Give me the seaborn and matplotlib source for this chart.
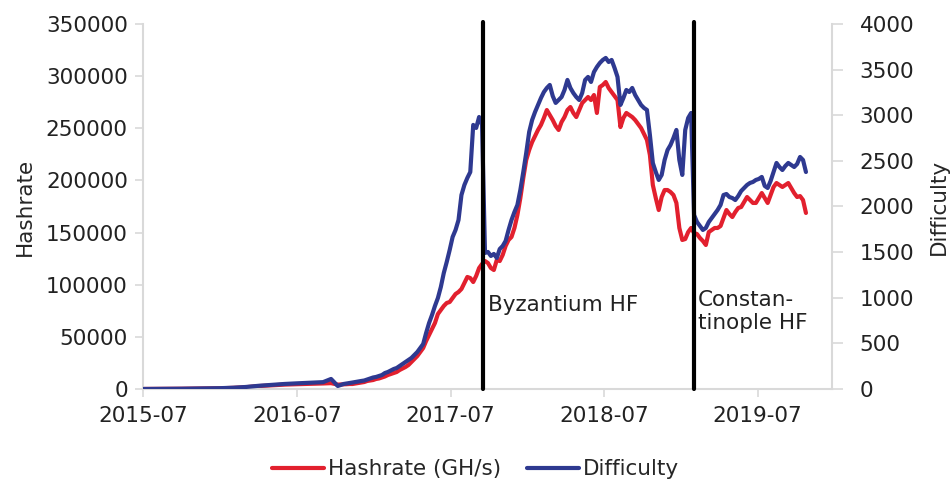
import pandas as pd
import numpy as np
import seaborn as sns
import matplotlib.pyplot as plt
import matplotlib.dates as mdates

# early period, roughly monthly readings
early_dates = ['2015-07-30', '2015-08-30', '2015-09-30', '2015-10-30', '2015-11-30',
               '2015-12-30', '2016-01-30', '2016-03-01', '2016-03-30', '2016-04-30',
               '2016-05-30', '2016-06-30', '2016-07-30', '2016-08-30', '2016-09-30',
               '2016-10-19']
early_hashrate = [30, 80, 150, 250, 400, 500, 700, 1100, 1700, 2800,
                  3500, 4200, 4600, 4900, 5300, 5600]
early_difficulty = [0.1, 0.8, 1.5, 3, 5, 6, 9, 14, 22, 35, 45, 55, 62, 68, 75, 110]

# weekly readings from 2016-11-04 on
weekly_start = '2016-11-04'
weekly_hashrate = [
    4200, 4300, 4500, 4600, 4800, 4800, 5300, 5800, 6200, 6700,
    7700, 8200, 8600, 9600, 10100, 11000, 12000, 13400, 14400, 15300,
    16300, 18200, 19700, 21100, 23000, 25900, 28800, 31600, 35500, 39300,
    46000, 51800, 57500, 63300, 71900, 75800, 79600, 82500, 83400, 87300,
    91100, 93000, 95900, 101600, 107400, 106400, 102600, 108400, 116000, 119900,
    122700, 120800, 116000, 114100, 123700, 122700, 128500, 137100, 142900, 145800,
    154400, 166800, 183100, 202300, 219600, 229200, 236800, 242600, 248400, 253200,
    259900, 267500, 262700, 257900, 252200, 248400, 256000, 260800, 267500, 270400,
    264700, 260800, 267500, 274200, 277100, 280000, 277100, 281900, 264700, 289600,
    291500, 294400, 288600, 284800, 281000, 277100, 251200, 259900, 264700, 262700,
    260800, 257900, 254100, 250300, 244500, 238800, 224400, 195600, 183100, 171600,
    184100, 190800, 190800, 188900, 186000, 178400, 154400, 142900, 143800, 150500,
    154400, 149600, 148600, 144800, 141900, 138100, 150500, 152500, 154400, 154400,
    156300, 164000, 171600, 167800, 164900, 169700, 173600, 174500, 179300, 184100,
    181200, 178400, 178400, 183100, 187900, 183100, 178400, 186000, 193700, 197500,
    195600, 193700, 195600, 197500, 192700, 187900, 184100, 185000, 181200, 168800]
weekly_difficulty = [
    33, 44, 55, 60, 66, 71, 77, 82, 88, 93,
    104, 115, 126, 132, 142, 153, 175, 186, 203, 219,
    230, 252, 274, 296, 318, 340, 373, 405, 449, 493,
    614, 723, 811, 910, 997, 1118, 1271, 1392, 1523, 1666,
    1743, 1852, 2126, 2236, 2313, 2378, 2894, 2861, 2981, 2894,
    1491, 1502, 1458, 1480, 1436, 1534, 1567, 1622, 1743, 1852,
    1940, 2017, 2181, 2378, 2587, 2817, 2948, 3036, 3113, 3189,
    3255, 3299, 3332, 3211, 3135, 3167, 3200, 3277, 3387, 3299,
    3244, 3200, 3167, 3244, 3387, 3420, 3365, 3474, 3529, 3573,
    3606, 3628, 3584, 3606, 3518, 3420, 3113, 3189, 3277, 3255,
    3299, 3222, 3167, 3113, 3080, 3058, 2784, 2477, 2378, 2291,
    2346, 2510, 2619, 2674, 2751, 2839, 2510, 2346, 2839, 2970,
    3025, 1907, 1830, 1787, 1743, 1765, 1830, 1874, 1918, 1962,
    2017, 2126, 2137, 2104, 2093, 2071, 2115, 2170, 2203, 2236,
    2258, 2269, 2291, 2302, 2324, 2225, 2203, 2280, 2378, 2477,
    2433, 2400, 2444, 2477, 2455, 2433, 2466, 2543, 2510, 2378]

forks = ['2017-10-16', '2019-02-28']
fork_labels = ['Byzantium HF', 'Constan-\ntinople HF']

weekly_dates = pd.date_range(weekly_start, periods=len(weekly_hashrate), freq='7D')
df = pd.DataFrame({
    'date': list(pd.to_datetime(early_dates)) + list(weekly_dates),
    'hashrate': early_hashrate + weekly_hashrate,
    'difficulty': early_difficulty + weekly_difficulty,
})

red = '#E2202E'
blue = '#2E3990'
grey = '#D9D9D9'

sns.set_theme(style='white')
plt.rcParams['font.family'] = ['DejaVu Sans']
fs = 15.5

fig = plt.figure(figsize=(9.51, 4.84), dpi=100)
ax = fig.add_axes([0.1504, 0.1963, 0.7245, 0.7541])
ax2 = ax.twinx()

sns.lineplot(data=df, x='date', y='hashrate', ax=ax, color=red, lw=3, label='Hashrate (GH/s)', legend=False)
sns.lineplot(data=df, x='date', y='difficulty', ax=ax2, color=blue, lw=3, label='Difficulty', legend=False)

for d in forks:
    ax2.axvline(pd.Timestamp(d), color='black', lw=3, ymax=1.005, clip_on=False, zorder=5)

ax2.text(pd.Timestamp(forks[0]) + pd.Timedelta(days=12), 925, fork_labels[0], fontsize=fs, color='#222222', va='center', ha='left')
ax2.text(pd.Timestamp(forks[1]) + pd.Timedelta(days=10), 845, fork_labels[1], fontsize=fs, color='#222222', va='center', ha='left', linespacing=1.2)

ax.set_xlim(pd.Timestamp('2015-07-30'), pd.Timestamp('2020-01-23'))
ax.set_ylim(0, 350000)
ax2.set_ylim(0, 4000)
ax.set_yticks(np.arange(0, 350001, 50000))
ax2.set_yticks(np.arange(0, 4001, 500))
ax.xaxis.set_major_locator(mdates.MonthLocator(bymonth=7, bymonthday=30))
ax.xaxis.set_major_formatter(mdates.DateFormatter('%Y-%m'))

ax.set_xlabel('')
ax.set_ylabel('Hashrate', fontsize=fs, labelpad=8)
ax2.set_ylabel('Difficulty', fontsize=fs, labelpad=10)

for a in (ax, ax2):
    for s in a.spines.values():
        s.set_visible(False)
    a.tick_params(labelsize=fs, colors='#222222', length=6, width=1.2)
    a.grid(False)
ax.spines['left'].set_visible(True)
ax.spines['left'].set_color(grey)
ax.spines['bottom'].set_visible(True)
ax.spines['bottom'].set_color(grey)
ax2.spines['right'].set_visible(True)
ax2.spines['right'].set_color(grey)
ax.spines['left'].set_linewidth(1.5)
ax.spines['bottom'].set_linewidth(1.5)
ax2.spines['right'].set_linewidth(1.5)
ax.tick_params(axis='y', left=True, color=grey, pad=5)
ax.tick_params(axis='x', bottom=True, color=grey, pad=6)
ax2.tick_params(axis='y', right=True, color=grey, pad=12, length=8)

h1, l1 = ax.get_legend_handles_labels()
h2, l2 = ax2.get_legend_handles_labels()
fig.legend(h1 + h2, l1 + l2, loc='lower center', bbox_to_anchor=(0.5, -0.03), ncol=2,
           frameon=False, fontsize=fs, handlelength=2.4, handletextpad=0.2, columnspacing=1.2)

fig.savefig('out.png', dpi=100)
